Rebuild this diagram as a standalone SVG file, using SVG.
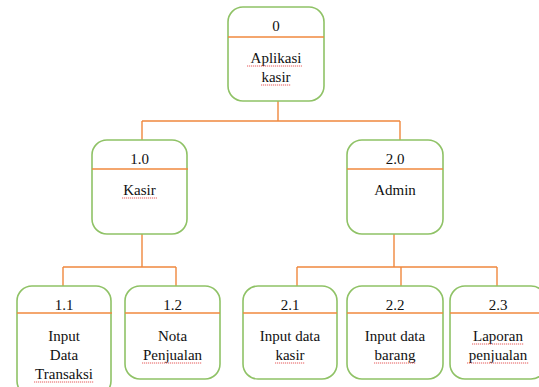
<svg xmlns="http://www.w3.org/2000/svg" width="539" height="387" viewBox="0 0 539 387">
<defs>
<style>
.box{fill:#fff;stroke:#8fc266;stroke-width:1.6}
.div{stroke:#f0883e;stroke-width:1.3;fill:none}
.con{stroke:#f0883e;stroke-width:1.4;fill:none}
text{font-family:"Liberation Serif","DejaVu Serif",serif;font-size:15px;fill:#111;text-anchor:middle}
.sq{stroke:#e03030;stroke-width:0.8;fill:none;stroke-dasharray:1.2 0.8}
</style>
</defs>
<rect width="539" height="387" fill="#fff"/>
<g id="connectors">
<path class="con" d="M278,101V121M142,121H400M142,121V140M400,121V140"/>
<path class="con" d="M142,234V267M63,267H176M63,267V286M176,267V286"/>
<path class="con" d="M394,234V267M297,267H497M297,267V286M401,267V286M497,267V286"/>
</g>
<g id="node-0">
<rect class="box" x="228" y="7" width="96" height="94" rx="15"/>
<line class="div" x1="228" y1="37" x2="324" y2="37"/>
<text x="276" y="31" font-family="Liberation Serif">0</text>
<text x="276" y="63" font-family="Liberation Serif">Aplikasi </text>
<text x="276" y="82" font-family="Liberation Serif">kasir</text>
<path class="sq" d="M247,66H302M261,85H291"/>
</g>
<g id="node-1-0">
<rect class="box" x="92" y="140" width="95" height="94" rx="15"/>
<line class="div" x1="92" y1="169" x2="188" y2="169"/>
<text x="139.5" y="164">1.0</text>
<text x="139.5" y="195">Kasir</text>
<path class="sq" d="M122,198H157"/>
</g>
<g id="node-2-0">
<rect class="box" x="347" y="140" width="96" height="94" rx="15"/>
<line class="div" x1="347" y1="169" x2="443" y2="169"/>
<text x="395" y="164">2.0</text>
<text x="395" y="195">Admin</text>
</g>
<g id="node-1-1">
<rect class="box" x="17" y="286" width="94" height="110" rx="15"/>
<line class="div" x1="17" y1="313" x2="112" y2="313"/>
<text x="64" y="310">1.1</text>
<text x="64" y="341">Input</text>
<text x="64" y="360">Data</text>
<text x="64" y="379">Transaksi</text>
<path class="sq" d="M34,382H94"/>
</g>
<g id="node-1-2">
<rect class="box" x="125" y="286" width="95" height="93" rx="15"/>
<line class="div" x1="125" y1="313" x2="220" y2="313"/>
<text x="172.5" y="310">1.2</text>
<text x="172.5" y="341">Nota</text>
<text x="172.5" y="360">Penjualan</text>
<path class="sq" d="M142,363H202"/>
</g>
<g id="node-2-1">
<rect class="box" x="243" y="286" width="94" height="93" rx="15"/>
<line class="div" x1="243" y1="313" x2="337" y2="313"/>
<text x="290" y="310">2.1</text>
<text x="290" y="341">Input data</text>
<text x="290" y="360">kasir</text>
<path class="sq" d="M275,363H305"/>
</g>
<g id="node-2-2">
<rect class="box" x="347" y="286" width="96" height="93" rx="15"/>
<line class="div" x1="347" y1="313" x2="443" y2="313"/>
<text x="395" y="310">2.2</text>
<text x="395" y="341">Input data</text>
<text x="395" y="360">barang</text>
<path class="sq" d="M374,363H416"/>
</g>
<g id="node-2-3">
<rect class="box" x="450" y="286" width="96" height="93" rx="15"/>
<line class="div" x1="450" y1="313" x2="546" y2="313"/>
<text x="498" y="310">2.3</text>
<text x="498" y="341">Laporan</text>
<text x="498" y="360">penjualan</text>
<path class="sq" d="M472,344H524M467,363H529"/>
</g>
</svg>
